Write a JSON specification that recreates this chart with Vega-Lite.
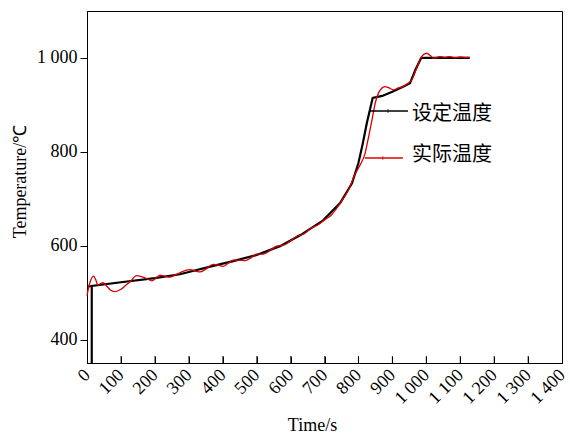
{
  "$schema": "https://vega.github.io/schema/vega-lite/v6.json",
  "width": 475,
  "height": 352,
  "autosize": "none",
  "padding": {"left": 87, "top": 11, "right": 8, "bottom": 73},
  "background": "white",
  "config": {
    "view": {"stroke": "#000", "strokeWidth": 1},
    "font": "Liberation Serif",
    "axis": {
      "grid": false,
      "domainColor": "#000",
      "tickColor": "#000",
      "labelColor": "#000",
      "titleColor": "#000",
      "labelFont": "Liberation Serif",
      "titleFont": "Liberation Serif",
      "labelFontSize": 18,
      "titleFontSize": 18,
      "titleFontWeight": "normal"
    }
  },
  "datasets": {
    "setpoint": [
      {"i": 1, "t": 0, "v": 513},
      {"i": 2, "t": 14, "v": 514},
      {"i": 3, "t": 14, "v": 350},
      {"i": 4, "t": 14, "v": 514},
      {"i": 5, "t": 100, "v": 522},
      {"i": 6, "t": 200, "v": 531},
      {"i": 7, "t": 274, "v": 539},
      {"i": 8, "t": 300, "v": 544},
      {"i": 9, "t": 372, "v": 557},
      {"i": 10, "t": 431, "v": 567},
      {"i": 11, "t": 500, "v": 580},
      {"i": 12, "t": 569, "v": 599},
      {"i": 13, "t": 628, "v": 622},
      {"i": 14, "t": 696, "v": 654},
      {"i": 15, "t": 746, "v": 691},
      {"i": 16, "t": 781, "v": 733},
      {"i": 17, "t": 800, "v": 776},
      {"i": 18, "t": 812, "v": 815},
      {"i": 19, "t": 825, "v": 862},
      {"i": 20, "t": 842, "v": 915},
      {"i": 21, "t": 870, "v": 919},
      {"i": 22, "t": 900, "v": 928},
      {"i": 23, "t": 930, "v": 938},
      {"i": 24, "t": 952, "v": 946},
      {"i": 25, "t": 968, "v": 975},
      {"i": 26, "t": 985, "v": 1000},
      {"i": 27, "t": 1128, "v": 1000}
    ],
    "actual": [
      {"t": 0, "v": 494}, {"t": 8, "v": 520}, {"t": 19, "v": 535}, {"t": 26, "v": 527},
      {"t": 32, "v": 516}, {"t": 40, "v": 519}, {"t": 47, "v": 521}, {"t": 58, "v": 514},
      {"t": 70, "v": 505}, {"t": 83, "v": 502}, {"t": 100, "v": 507}, {"t": 115, "v": 516},
      {"t": 127, "v": 523}, {"t": 146, "v": 536}, {"t": 160, "v": 534}, {"t": 176, "v": 530},
      {"t": 191, "v": 525}, {"t": 205, "v": 532}, {"t": 215, "v": 537}, {"t": 230, "v": 535},
      {"t": 245, "v": 533}, {"t": 264, "v": 539}, {"t": 285, "v": 546}, {"t": 304, "v": 549},
      {"t": 320, "v": 546}, {"t": 333, "v": 544}, {"t": 350, "v": 550}, {"t": 372, "v": 560},
      {"t": 385, "v": 559}, {"t": 401, "v": 556}, {"t": 415, "v": 562}, {"t": 431, "v": 569},
      {"t": 450, "v": 569}, {"t": 466, "v": 568}, {"t": 485, "v": 575}, {"t": 500, "v": 582},
      {"t": 520, "v": 582}, {"t": 540, "v": 590}, {"t": 559, "v": 599}, {"t": 579, "v": 601},
      {"t": 600, "v": 610}, {"t": 623, "v": 622}, {"t": 637, "v": 624}, {"t": 660, "v": 637},
      {"t": 680, "v": 644}, {"t": 700, "v": 655}, {"t": 720, "v": 665}, {"t": 746, "v": 690},
      {"t": 770, "v": 718}, {"t": 790, "v": 752}, {"t": 805, "v": 772}, {"t": 819, "v": 795},
      {"t": 830, "v": 832}, {"t": 840, "v": 868}, {"t": 850, "v": 905}, {"t": 859, "v": 925},
      {"t": 868, "v": 935}, {"t": 878, "v": 939}, {"t": 890, "v": 936}, {"t": 903, "v": 932},
      {"t": 918, "v": 936}, {"t": 931, "v": 939}, {"t": 946, "v": 946}, {"t": 957, "v": 953},
      {"t": 970, "v": 975}, {"t": 986, "v": 1003}, {"t": 1001, "v": 1010}, {"t": 1012, "v": 1005},
      {"t": 1021, "v": 999}, {"t": 1030, "v": 1001}, {"t": 1040, "v": 1003}, {"t": 1055, "v": 1001},
      {"t": 1070, "v": 1003}, {"t": 1085, "v": 1000}, {"t": 1100, "v": 1002}, {"t": 1115, "v": 1001},
      {"t": 1128, "v": 1001}
    ],
    "xticks": [
      {"t": 100, "v": 350}, {"t": 200, "v": 350}, {"t": 300, "v": 350}, {"t": 400, "v": 350},
      {"t": 500, "v": 350}, {"t": 600, "v": 350}, {"t": 700, "v": 350}, {"t": 800, "v": 350},
      {"t": 900, "v": 350}, {"t": 1000, "v": 350}, {"t": 1100, "v": 350}, {"t": 1200, "v": 350},
      {"t": 1300, "v": 350}
    ],
    "legendline": [
      {"s": "set", "t": 834, "t2": 946, "v": 887},
      {"s": "act", "t": 819, "t2": 931, "v": 787}
    ],
    "legendmark": [
      {"s": "set", "t": 887, "v": 887},
      {"s": "act", "t": 872, "v": 787}
    ],
    "legendtext": [
      {"label": "设定温度", "t": 958, "v": 880},
      {"label": "实际温度", "t": 958, "v": 793}
    ]
  },
  "encoding": {
    "x": {
      "field": "t", "type": "quantitative",
      "scale": {"domain": [0, 1400], "nice": false, "zero": false},
      "axis": {
        "title": "Time/s",
        "values": [0, 100, 200, 300, 400, 500, 600, 700, 800, 900, 1000, 1100, 1200, 1300, 1400],
        "labelExpr": "replace(format(datum.value, ','), ',', ' ')",
        "labelAngle": -45,
        "labelAlign": "right",
        "labelBaseline": "middle",
        "labelPadding": 16,
        "tickSize": -7,
        "labelOverlap": false,
        "labelFlush": false,
        "labelBound": false,
        "titleX": 225,
        "titleY": 62,
        "titleAlign": "center",
        "titleBaseline": "middle"
      }
    },
    "y": {
      "field": "v", "type": "quantitative",
      "scale": {"domain": [350, 1100], "nice": false, "zero": false},
      "axis": {
        "title": "Temperature/℃",
        "values": [400, 600, 800, 1000],
        "labelExpr": "replace(format(datum.value, ','), ',', ' ')",
        "tickSize": 7,
        "labelPadding": 3,
        "titleX": -67,
        "titleY": 170,
        "titleAlign": "center",
        "titleBaseline": "middle",
        "titleAngle": -90
      }
    }
  },
  "layer": [
    {
      "data": {"name": "xticks"},
      "mark": {"type": "tick", "orient": "vertical", "size": 7, "thickness": 1, "yOffset": -3.5, "color": "#000"},
      "encoding": {}
    },
    {
      "data": {"name": "setpoint"},
      "mark": {"type": "line", "color": "#000", "strokeWidth": 2.2},
      "encoding": {
        "order": {"field": "i", "type": "quantitative"}
      }
    },
    {
      "data": {"name": "actual"},
      "mark": {"type": "line", "color": "#d80000", "strokeWidth": 1.3, "interpolate": "monotone"},
      "encoding": {}
    },
    {
      "data": {"name": "legendline"},
      "mark": {"type": "rule", "strokeWidth": 1.5},
      "encoding": {
        "x2": {"field": "t2"},
        "color": {"field": "s", "type": "nominal", "scale": {"domain": ["set", "act"], "range": ["#000000", "#e00000"]}, "legend": null}
      }
    },
    {
      "data": {"name": "legendmark"},
      "mark": {"type": "tick", "orient": "vertical", "size": 4, "thickness": 1},
      "encoding": {
        "color": {"field": "s", "type": "nominal", "scale": {"domain": ["set", "act"], "range": ["#000000", "#e00000"]}, "legend": null}
      }
    },
    {
      "data": {"name": "legendtext"},
      "mark": {"type": "text", "align": "left", "baseline": "middle", "font": "Noto Sans CJK SC", "fontSize": 20, "color": "#000"},
      "encoding": {
        "text": {"field": "label"}
      }
    }
  ]
}
